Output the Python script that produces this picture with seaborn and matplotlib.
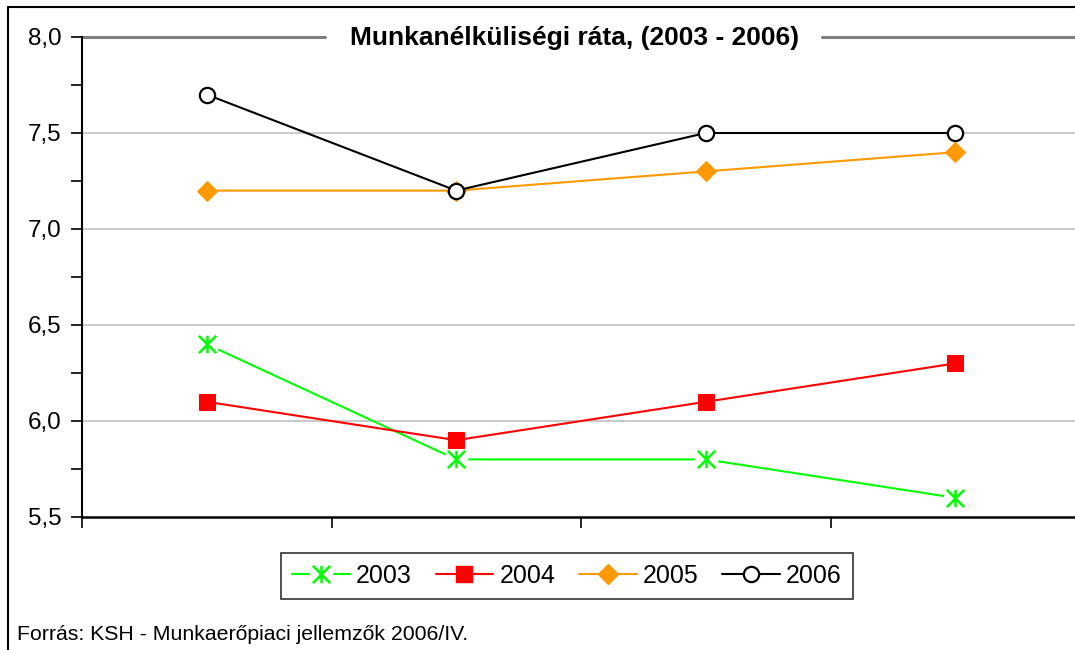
import pandas as pd
import matplotlib.pyplot as plt
import seaborn as sns
from matplotlib.ticker import FuncFormatter, MultipleLocator, FixedLocator
from matplotlib.lines import Line2D
from matplotlib.path import Path
from matplotlib.legend_handler import HandlerTuple

# Adatok
evek = ['2003', '2004', '2005', '2006']
pozicio = [0, 1, 2, 3]
rata_2003 = [6.4, 5.8, 5.8, 5.6]
rata_2004 = [6.1, 5.9, 6.1, 6.3]
rata_2005 = [7.2, 7.2, 7.3, 7.4]
rata_2006 = [7.7, 7.2, 7.5, 7.5]

sorozatok = [rata_2003, rata_2004, rata_2005, rata_2006]
szinek = ['#00ff00', '#ff0000', '#ff9900', '#000000']

# Excel-szerű csillag jelölő (X + függőleges vonal)
csillag = Path([(0, -1), (0, 1), (-1, -1), (1, 1), (-1, 1), (1, -1)],
               [Path.MOVETO, Path.LINETO, Path.MOVETO, Path.LINETO, Path.MOVETO, Path.LINETO])

sns.set_style('white')
plt.rcParams['font.family'] = ['Liberation Sans', 'DejaVu Sans']
plt.rcParams['text.color'] = 'black'
plt.rcParams['ytick.labelcolor'] = 'black'

fig = plt.figure(figsize=(10.75, 6.5), dpi=100)
ax = fig.add_axes([82 / 1075, 1 - 517 / 650, 998 / 1075, 480 / 650])

kezelok = []
for ev, ertekek, szin in zip(evek, sorozatok, szinek):
    df = pd.DataFrame({'x': pozicio, 'y': ertekek})
    if ev == '2003':
        sns.lineplot(data=df, x='x', y='y', ax=ax, color=szin, linewidth=1.5, zorder=3)
        # fehér folt a jelölő körül, hogy a vonal ne érjen bele
        ax.plot(df['x'], df['y'], linestyle='none', marker='o', markersize=17,
                markerfacecolor='white', markeredgecolor='none', zorder=3.5)
        ax.plot(df['x'], df['y'], linestyle='none', marker=csillag, markersize=12.5,
                markeredgecolor=szin, markeredgewidth=1.8, zorder=3.6)
        kezelok.append((Line2D([], [], color=szin, linewidth=1.5),
                        Line2D([], [], linestyle='none', marker='o', markersize=17,
                               markerfacecolor='white', markeredgecolor='none'),
                        Line2D([], [], linestyle='none', marker=csillag, markersize=12.5,
                               markeredgecolor=szin, markeredgewidth=1.8)))
    elif ev == '2006':
        sns.lineplot(data=df, x='x', y='y', ax=ax, color=szin, marker='o',
                     markersize=11, markerfacecolor='white', markeredgecolor='black',
                     markeredgewidth=1.6, linewidth=1.5, zorder=5)
        kezelok.append(Line2D([], [], color=szin, marker='o', markersize=11,
                              markerfacecolor='white', markeredgecolor='black',
                              markeredgewidth=1.6, linewidth=1.5))
    else:
        jel, meret = ('s', 11) if ev == '2004' else ('D', 10)
        sns.lineplot(data=df, x='x', y='y', ax=ax, color=szin, marker=jel,
                     markersize=meret, markeredgecolor=szin, markerfacecolor=szin,
                     linewidth=1.5, zorder=4)
        kezelok.append(Line2D([], [], color=szin, marker=jel, markersize=meret,
                              markeredgecolor=szin, markerfacecolor=szin, linewidth=1.5))

ax.set_xlim(-0.5, 3.5)
ax.set_ylim(5.5, 8.0)
ax.set_xlabel('')
ax.set_ylabel('')

ax.yaxis.set_major_locator(MultipleLocator(0.5))
ax.yaxis.set_minor_locator(MultipleLocator(0.25))
ax.yaxis.set_major_formatter(FuncFormatter(lambda v, p: f'{v:.1f}'.replace('.', ',')))
ax.xaxis.set_major_locator(FixedLocator([-0.5, 0.5, 1.5, 2.5]))
ax.set_xticklabels([])
ax.tick_params(axis='y', which='both', direction='out', length=8, width=1.2,
               color='black', labelcolor='black', labelsize=17.5, left=True, pad=7)
ax.tick_params(axis='x', which='major', direction='out', length=8, width=1.2,
               color='black', bottom=True)

for y in [6.0, 6.5, 7.0, 7.5]:
    ax.axhline(y, color='#c0c0c0', linewidth=1.2, zorder=0)
# felső vonal, a cím helyén megszakítva
tr = ax.get_yaxis_transform()
ax.plot([0, 0.2435], [8.0, 8.0], transform=tr, color='#808080', linewidth=2.2,
        clip_on=False, zorder=0)
ax.plot([0.7415, 1.0], [8.0, 8.0], transform=tr, color='#808080', linewidth=2.2,
        clip_on=False, zorder=0)

for oldal in ['top', 'right']:
    ax.spines[oldal].set_visible(False)
ax.spines['left'].set_color('black')
ax.spines['bottom'].set_color('black')
ax.spines['left'].set_linewidth(1.5)
ax.spines['bottom'].set_linewidth(1.8)

fig.text(575 / 1075, 1 - 38 / 650, 'Munkanélküliségi ráta, (2003 - 2006)',
         ha='center', va='center', fontsize=19, fontweight='bold', color='black')

leg = fig.legend(kezelok, evek, loc='center', bbox_to_anchor=(567 / 1075, 1 - 576 / 650),
                 ncol=4, fontsize=18, frameon=True, fancybox=False, edgecolor='black',
                 handlelength=2.3, columnspacing=0.95, handletextpad=0.25,
                 borderpad=0.45, labelcolor='black',
                 handler_map={tuple: HandlerTuple(ndivide=1, pad=0)})
leg.get_frame().set_linewidth(1.2)

fig.text(17 / 1075, 1 - 634 / 650, 'Forrás: KSH - Munkaerőpiaci jellemzők 2006/IV.',
         ha='left', va='center', fontsize=15.3, color='black')

# keret bal és felső oldalon
fig.add_artist(Line2D([8 / 1075, 8 / 1075], [0, 1 - 7 / 650], color='black', linewidth=1.5))
fig.add_artist(Line2D([8 / 1075, 1], [1 - 7 / 650, 1 - 7 / 650], color='black', linewidth=1.5))

fig.savefig('out.png', dpi=100)
